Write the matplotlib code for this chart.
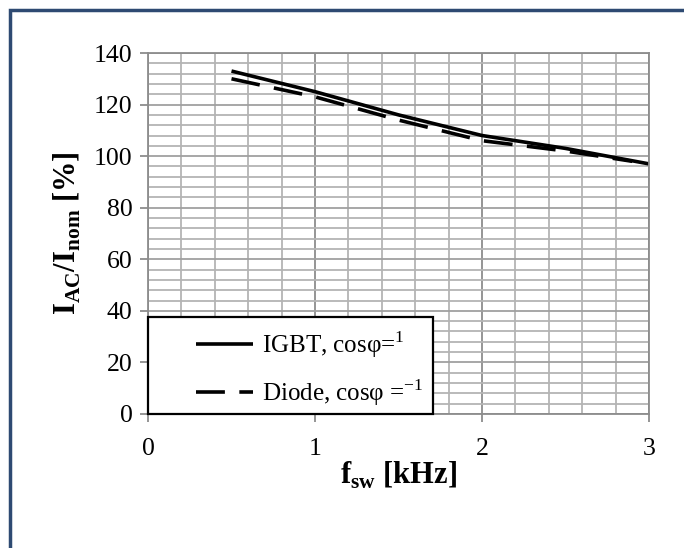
import numpy as np
import matplotlib
matplotlib.use("Agg")
import matplotlib.pyplot as plt
from matplotlib.patches import Rectangle
from matplotlib.ticker import MultipleLocator

plt.rcParams["font.family"] = ["Liberation Serif", "DejaVu Serif"]
plt.rcParams["mathtext.fontset"] = "custom"
plt.rcParams["mathtext.rm"] = "Liberation Serif"
plt.rcParams["mathtext.bf"] = "Liberation Serif:bold"

# curves
f_igbt = [0.5, 1.0, 1.5, 2.0, 2.5, 3.0]
i_igbt = [133, 125, 116, 108, 103, 97]
f_diode = [0.5, 1.0, 1.5, 2.0, 2.5, 2.9]
i_diode = [130, 123, 114, 106, 102, 98]

x_ticks = [0, 1, 2, 3]
y_ticks = [0, 20, 40, 60, 80, 100, 120, 140]

fig = plt.figure(figsize=(6.84, 5.48), dpi=100)
fig.patches.append(Rectangle((10 / 684, -0.1), 1.2, (538 / 548) + 0.1,
                             transform=fig.transFigure, fill=False,
                             edgecolor="#2E4A72", linewidth=2.5))

ax = fig.add_axes([148 / 684, 134 / 548, 501 / 684, 361 / 548])

grid_c = "#B4B4B4"
major_c = "#8C8C8C"
ax.xaxis.set_minor_locator(MultipleLocator(0.2))
ax.yaxis.set_minor_locator(MultipleLocator(4))
ax.grid(which="minor", color=grid_c, linewidth=1.3)
ax.grid(which="major", axis="x", color=major_c, linewidth=1.3)
ax.grid(which="major", axis="y", color="#A0A0A0", linewidth=1.3)
ax.set_axisbelow(True)

ax.plot(f_igbt, i_igbt, color="black", linewidth=2.6, solid_capstyle="butt",
        label=r"IGBT, cosφ=$^{1}$")
ax.plot(f_diode, i_diode, color="black", linewidth=2.6, dashes=(8, 4),
        label=r"Diode, cosφ =$^{-1}$")

ax.set_xlim(0, 3)
ax.set_ylim(0, 140)
ax.set_xticks(x_ticks)
ax.set_yticks(y_ticks)
ax.tick_params(which="major", length=6, width=1.3, color=major_c,
               labelsize=18.5, pad=5)
ax.tick_params(axis="x", which="major", pad=11)
ax.tick_params(which="minor", length=0)
for s in ax.spines.values():
    s.set_color(major_c)
    s.set_linewidth(1.3)

ax.set_xlabel(r"$\mathbf{f}_{\mathrm{\mathbf{sw}}}$ [kHz]", fontsize=22,
              fontweight="bold", labelpad=0)
ax.set_ylabel(r"$\mathbf{I}_{\mathbf{AC}}\mathbf{/I}_{\mathbf{nom}}$ [%]",
              fontsize=22, fontweight="bold", labelpad=8)

# legend box drawn separately so the padding matches
ax.add_patch(Rectangle((0, 0), 0.569, 0.269, transform=ax.transAxes,
                       facecolor="white", edgecolor="black", linewidth=1.6,
                       zorder=4, clip_on=False))
leg = ax.legend(loc="center left", bbox_to_anchor=(0.095, 0.126),
                borderaxespad=0, borderpad=0, fontsize=18, frameon=False,
                handlelength=2.3, labelspacing=0.68, handletextpad=0.35)
leg.set_zorder(5)

fig.savefig("out.png", dpi=100)
